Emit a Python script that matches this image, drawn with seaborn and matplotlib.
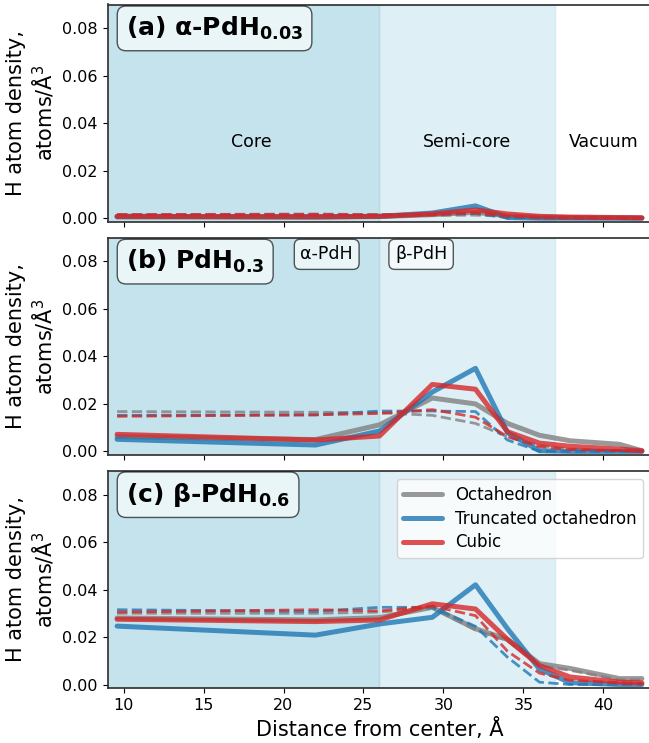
import numpy as np
import pandas as pd
import matplotlib
matplotlib.use("Agg")
import matplotlib.pyplot as plt
import seaborn as sns

sns.set_theme(style="ticks")
plt.rcParams['font.family'] = ['DejaVu Sans']
plt.rcParams['mathtext.fontset'] = 'dejavusans'
plt.rcParams['text.color'] = 'black'
plt.rcParams['axes.labelcolor'] = 'black'
plt.rcParams['xtick.color'] = 'black'
plt.rcParams['ytick.color'] = 'black'

# ---------------- data ----------------
distance = [9.6, 22.0, 26.0, 29.3, 32.0, 34.0, 36.0, 37.9, 41.0, 42.4]
structures = ["Octahedron", "Truncated octahedron", "Cubic"]

# panel (a) alpha-PdH0.03
a_oct_solid = [0.0005, 0.0005, 0.0007, 0.0015, 0.0025, 0.0010, 0.0005, 0.0003, 0.0002, 0.0001]
a_tru_solid = [0.0008, 0.0006, 0.0008, 0.0022, 0.0052, 0.0003, 0.0, 0.0, 0.0, 0.0]
a_cub_solid = [0.0008, 0.0006, 0.0008, 0.0018, 0.0035, 0.0018, 0.0008, 0.0005, 0.0003, 0.0002]
a_oct_dash = [0.0015, 0.0018, 0.0015, 0.0012, 0.0013, 0.0008, 0.0003, 0.0002, 0.0001, 0.0001]
a_tru_dash = [0.0013, 0.0013, 0.0013, 0.0015, 0.0020, 0.0002, 0.0, 0.0, 0.0, 0.0]
a_cub_dash = [0.0015, 0.0016, 0.0014, 0.0016, 0.0022, 0.0008, 0.0003, 0.0002, 0.0001, 0.0001]

# panel (b) PdH0.3
b_oct_solid = [0.0062, 0.0050, 0.0112, 0.0225, 0.0200, 0.0118, 0.0068, 0.0045, 0.0030, 0.0003]
b_tru_solid = [0.0051, 0.0027, 0.0086, 0.0250, 0.0350, 0.0079, 0.0003, 0.0, 0.0, 0.0]
b_cub_solid = [0.0072, 0.0048, 0.0065, 0.0282, 0.0262, 0.0083, 0.0035, 0.0022, 0.0010, 0.0003]
b_oct_dash = [0.0168, 0.0165, 0.0163, 0.0152, 0.0118, 0.0062, 0.0025, 0.0010, 0.0003, 0.0001]
b_tru_dash = [0.0152, 0.0154, 0.0170, 0.0170, 0.0168, 0.0048, 0.0001, 0.0, 0.0, 0.0]
b_cub_dash = [0.0148, 0.0154, 0.0160, 0.0176, 0.0144, 0.0062, 0.0020, 0.0008, 0.0003, 0.0001]

# panel (c) beta-PdH0.6
c_oct_solid = [0.0280, 0.0272, 0.0282, 0.0325, 0.0235, 0.0190, 0.0088, 0.0068, 0.0025, 0.0025]
c_tru_solid = [0.0246, 0.0208, 0.0255, 0.0283, 0.0420, 0.0235, 0.0065, 0.0008, 0.0, 0.0]
c_cub_solid = [0.0275, 0.0265, 0.0272, 0.0340, 0.0318, 0.0190, 0.0080, 0.0032, 0.0010, 0.0007]
c_oct_dash = [0.0300, 0.0300, 0.0305, 0.0322, 0.0230, 0.0185, 0.0080, 0.0060, 0.0020, 0.0020]
c_tru_dash = [0.0315, 0.0308, 0.0325, 0.0325, 0.0245, 0.0115, 0.0010, 0.0, 0.0, 0.0]
c_cub_dash = [0.0305, 0.0315, 0.0310, 0.0330, 0.0290, 0.0140, 0.0048, 0.0018, 0.0008, 0.0005]

panel_titles = [r"(a) α-PdH$_{\mathbf{0.03}}$", r"(b) PdH$_{\mathbf{0.3}}$", r"(c) β-PdH$_{\mathbf{0.6}}$"]
region_labels = ["Core", "Semi-core", "Vacuum"]
region_label_x = [18.0, 31.5, 40.0]
phase_labels = ["α-PdH", "β-PdH"]
phase_label_x = [22.7, 28.6]
yticks = [0.00, 0.02, 0.04, 0.06, 0.08]
xticks = [10, 15, 20, 25, 30, 35, 40]

colors = ["gray", "tab:blue", "tab:red"]

panels = [
    (a_oct_solid, a_tru_solid, a_cub_solid, a_oct_dash, a_tru_dash, a_cub_dash),
    (b_oct_solid, b_tru_solid, b_cub_solid, b_oct_dash, b_tru_dash, b_cub_dash),
    (c_oct_solid, c_tru_solid, c_cub_solid, c_oct_dash, c_tru_dash, c_cub_dash),
]

# ---------------- figure ----------------
W, H = 649, 743
fig = plt.figure(figsize=(W / 100, H / 100), dpi=100)

left_px, right_px = 107.5, 651.5
tops = [4.5, 237.7, 470.8]
hgt = 217.3
axes = []
for t in tops:
    ax = fig.add_axes([left_px / W, 1 - (t + hgt) / H, (right_px - left_px) / W, hgt / H])
    axes.append(ax)

for i, ax in enumerate(axes):
    ax.axvspan(0, 26, color="lightblue", alpha=0.7, zorder=0)
    ax.axvspan(26, 37, color="lightblue", alpha=0.4, zorder=0)
    sol = panels[i][:3]
    das = panels[i][3:]
    for j, name in enumerate(structures):
        df_s = pd.DataFrame({"x": distance, "y": sol[j]})
        df_d = pd.DataFrame({"x": distance, "y": das[j]})
        sns.lineplot(data=df_s, x="x", y="y", ax=ax, color=colors[j], lw=3.6,
                     alpha=0.8, label=name, legend=False, sort=False)
        sns.lineplot(data=df_d, x="x", y="y", ax=ax, color=colors[j], lw=2.0,
                     alpha=0.8, linestyle="--", legend=False, sort=False)
    ax.set_xlim(9, 43)
    ax.set_ylim(-0.0015, 0.09)
    ax.set_yticks(yticks)
    ax.set_xticks(xticks)
    ax.tick_params(labelsize=11.5, colors="black", length=3.5, width=0.8)
    for s in ax.spines.values():
        s.set_color("#333333")
    ax.set_ylabel("H atom density,\natoms/Å$^3$", fontsize=15, color="black")
    if i < 2:
        ax.set_xlabel("")
        ax.tick_params(labelbottom=False)
    else:
        ax.set_xlabel("Distance from center, Å", fontsize=15, color="black")
    ax.text(0.034, 0.89, panel_titles[i], transform=ax.transAxes, fontsize=18,
            fontweight="bold", ha="left", va="center", color="black",
            bbox=dict(boxstyle="round,pad=0.35", fc="white", ec="black", alpha=0.65))

# region labels on panel (a)
for lab, xv in zip(region_labels, region_label_x):
    axes[0].text(xv, 0.0323, lab, fontsize=12.5, ha="center", va="center", color="black")

# phase labels on panel (b)
for lab, xv in zip(phase_labels, phase_label_x):
    axes[1].text(xv, 0.083, lab, fontsize=12.5, ha="center", va="center", color="black",
                 bbox=dict(boxstyle="round,pad=0.35", fc="white", ec="black", alpha=0.65))

handles, labels = axes[2].get_legend_handles_labels()
leg = axes[2].legend(handles[:3], labels[:3], loc="upper right", fontsize=12,
                     handlelength=2.3, labelspacing=0.35)
for t in leg.get_texts():
    t.set_color("black")

fig.savefig("out.png", dpi=100)
